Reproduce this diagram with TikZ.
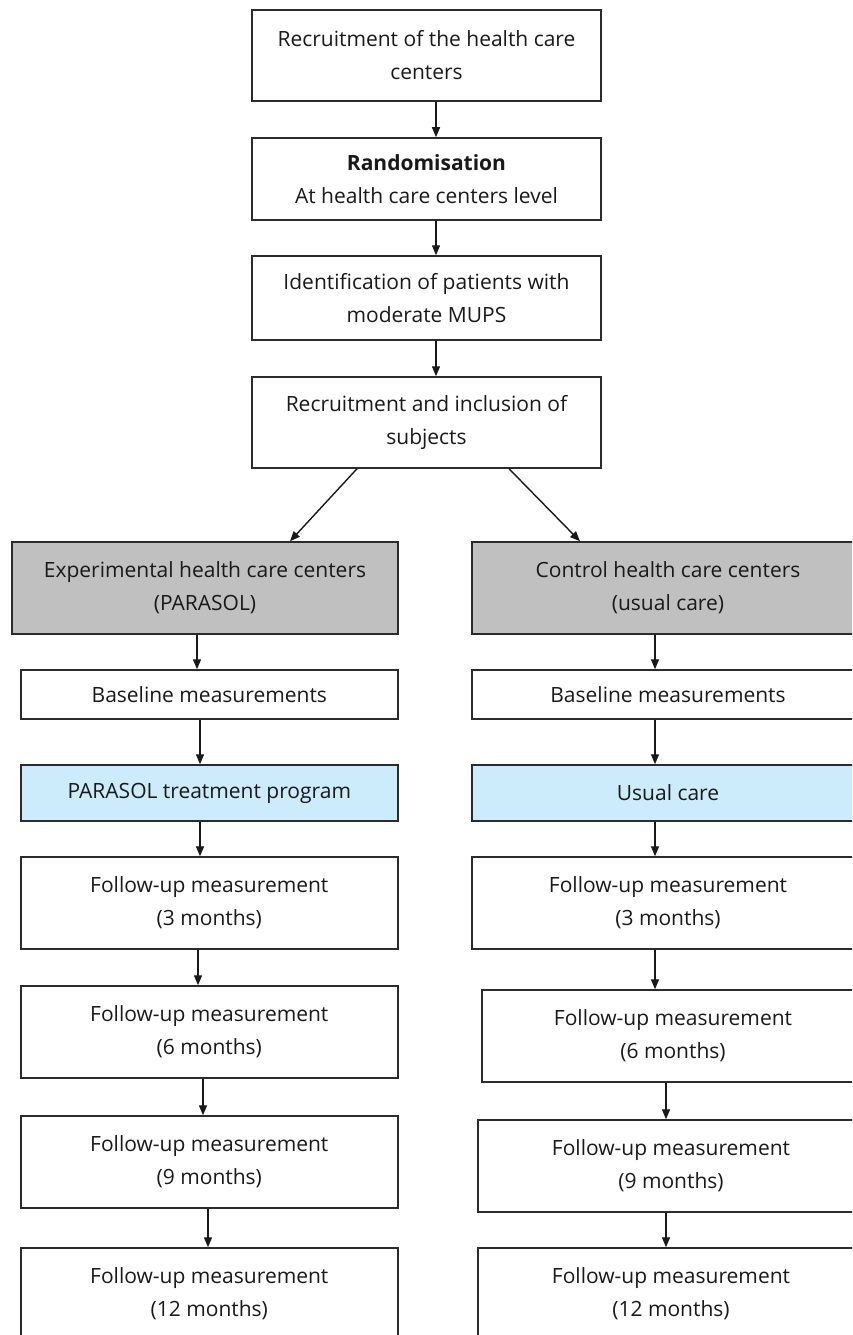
\documentclass[tikz,border=0pt]{standalone}
\usepackage{fontspec}
\setmainfont{Open Sans}
\usetikzlibrary{arrows.meta}
\definecolor{boxline}{HTML}{2B2B2B}
\definecolor{grayfill}{HTML}{C0C0C0}
\definecolor{bluefill}{HTML}{CCEBFB}
\tikzset{
  box/.style={draw=boxline, line width=1.5pt, rectangle, align=center, inner sep=0pt,
    font=\fontsize{21}{33}\selectfont, text=black!90},
  topbox/.style={box, minimum width=349pt},
  colbox/.style={box, minimum width=377pt},
  rcolbox/.style={box, minimum width=392pt},
  arr/.style={draw=black!90, line width=1.4pt, -{Triangle[length=10pt,width=8pt]}},
}
\begin{document}
\begin{tikzpicture}[x=1pt,y=-1pt]
\useasboundingbox (0,0) rectangle (852,1335);
\clip (0,0) rectangle (852,1335);
% top chain
\node[topbox, minimum height=91pt] (b1) at (426.5,55.5) {Recruitment of the health care\\centers};
\node[topbox, minimum height=82pt] (b2) at (426.5,179) {\textbf{Randomisation}\\At health care centers level};
\node[topbox, minimum height=84pt] (b3) at (426.5,298) {Identification of patients with\\moderate MUPS};
\node[topbox, minimum height=91pt] (b4) at (426.5,422.5) {Recruitment and inclusion of\\subjects};
% left column
\node[box, minimum width=386pt, minimum height=92pt, fill=grayfill] (lg) at (205,588) {Experimental health care centers\\(PARASOL)};
\node[colbox, minimum height=49pt] (lb) at (209.3,694.5) {Baseline measurements};
\node[colbox, minimum height=56pt, fill=bluefill] (lt) at (209.3,793) {PARASOL treatment program};
\node[colbox, minimum height=92pt] (l3) at (209.3,903) {Follow-up measurement\\(3 months)};
\node[colbox, minimum height=92pt] (l6) at (209.3,1032) {Follow-up measurement\\(6 months)};
\node[colbox, minimum height=92pt] (l9) at (209.3,1162) {Follow-up measurement\\(9 months)};
\node[colbox, minimum height=92pt] (l12) at (209.3,1294) {Follow-up measurement\\(12 months)};
% right column
\node[rcolbox, minimum height=92pt, fill=grayfill] (rg) at (668,588) {Control health care centers\\(usual care)};
\node[rcolbox, minimum height=49pt] (rb) at (668,694.5) {Baseline measurements};
\node[rcolbox, minimum height=56pt, fill=bluefill] (rt) at (668,793) {Usual care};
\node[rcolbox, minimum height=92pt] (r3) at (668,903) {Follow-up measurement\\(3 months)};
\node[box, minimum width=382pt, minimum height=92pt] (r6) at (673,1036) {Follow-up measurement\\(6 months)};
\node[box, minimum width=386pt, minimum height=92pt] (r9) at (671,1166) {Follow-up measurement\\(9 months)};
\node[box, minimum width=386pt, minimum height=92pt] (r12) at (671,1294) {Follow-up measurement\\(12 months)};
% connectors
\draw[arr] (b1.south -| 436,0) -- (b2.north -| 436,0);
\draw[arr] (b2.south -| 436,0) -- (b3.north -| 436,0);
\draw[arr] (b3.south -| 436,0) -- (b4.north -| 436,0);
\draw[arr] (b4.south -| 357,0) -- (lg.north -| 290,0);
\draw[arr] (b4.south -| 509,0) -- (rg.north -| 580,0);
\draw[arr] (lg.south -| 197,0) -- (lb.north -| 197,0);
\draw[arr] (lb.south -| 200,0) -- (lt.north -| 200,0);
\draw[arr] (lt.south -| 200,0) -- (l3.north -| 200,0);
\draw[arr] (l3.south -| 198,0) -- (l6.north -| 198,0);
\draw[arr] (l6.south -| 203,0) -- (l9.north -| 203,0);
\draw[arr] (l9.south -| 208,0) -- (l12.north -| 208,0);
\draw[arr] (rg.south -| 655,0) -- (rb.north -| 655,0);
\draw[arr] (rb.south -| 655,0) -- (rt.north -| 655,0);
\draw[arr] (rt.south -| 655,0) -- (r3.north -| 655,0);
\draw[arr] (r3.south -| 655,0) -- (r6.north -| 655,0);
\draw[arr] (r6.south -| 666,0) -- (r9.north -| 666,0);
\draw[arr] (r9.south -| 666,0) -- (r12.north -| 666,0);
\end{tikzpicture}
\end{document}
